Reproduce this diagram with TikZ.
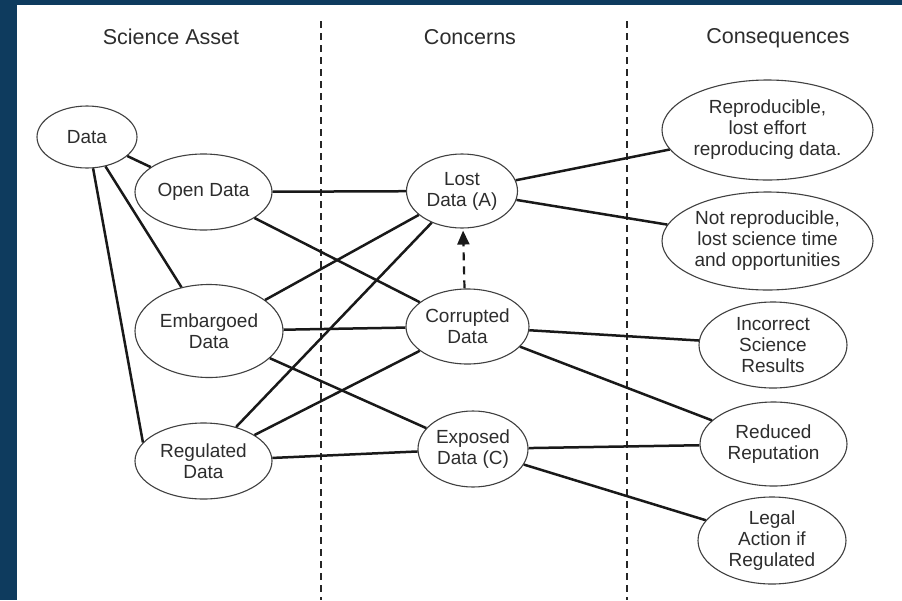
\documentclass[tikz,border=0pt]{standalone}
\usepackage{fontspec}
\setmainfont{Liberation Sans}
\usetikzlibrary{shapes.geometric,arrows.meta}
\definecolor{bgblue}{RGB}{14,59,94}
\definecolor{txt}{RGB}{45,45,45}
\begin{document}
\begin{tikzpicture}[x=1pt,y=-1pt,
  oval/.style={ellipse, draw=black!75, line width=1.1pt, inner sep=0pt, align=center, text=txt, font=\fontsize{19}{21}\selectfont},
  link/.style={line width=2.5pt, draw=black!90},
  divider/.style={line width=1.4pt, draw=black!85, dash pattern=on 7pt off 5pt},
  header/.style={anchor=base, text=txt, font=\fontsize{21.5}{24}\selectfont}]
\fill[bgblue] (0,0) rectangle (902,600);
\fill[white] (17,5) rectangle (902,600);
\useasboundingbox (0,0) rectangle (902,600);

% headers
\node[header] (h1) at (171,44) {Science Asset};
\node[header] (h2) at (470,44) {Concerns};
\node[header] (h3) at (778,43) {Consequences};

% dividers
\coordinate (d1t) at (321,21);
\coordinate (d1b) at (321,600);
\coordinate (d2t) at (627,21);
\coordinate (d2b) at (627,600);
\draw[divider] (d1t) -- (d1b);
\draw[divider] (d2t) -- (d2b);

% science assets
\node[oval, minimum width=100pt, minimum height=62pt] (data) at (87,137) {Data};
\node[oval, minimum width=137pt, minimum height=76pt] (open) at (203.5,192) {Open Data};
\node[oval, minimum width=148pt, minimum height=93pt] (emb) at (209,331) {Embargoed\\Data};
\node[oval, minimum width=137pt, minimum height=76pt] (reg) at (203.5,461) {Regulated\\Data};

% concerns
\node[oval, minimum width=111pt, minimum height=74pt] (lost) at (462,191) {Lost\\Data (A)};
\node[oval, minimum width=123pt, minimum height=75pt] (corr) at (467.5,326.5) {Corrupted\\Data};
\node[oval, minimum width=110pt, minimum height=76pt] (expo) at (473,449) {Exposed\\Data (C)};

% consequences
\node[oval, minimum width=211pt, minimum height=100pt] (repro) at (767.5,130) {Reproducible,\\lost effort\\reproducing data.};
\node[oval, minimum width=211pt, minimum height=98pt] (notrepro) at (767.5,241) {Not reproducible,\\lost science time\\and opportunities};
\node[oval, minimum width=148pt, minimum height=86pt] (incorrect) at (773,345) {Incorrect\\Science\\Results};
\node[oval, minimum width=147pt, minimum height=84pt] (reduced) at (773.5,444) {Reduced\\Reputation};
\node[oval, minimum width=148pt, minimum height=87pt] (legal) at (772,540.5) {Legal\\Action if\\Regulated};

% connectors
\draw[link] (data) -- (open);
\draw[link] (data) -- (emb);
\draw[link] (data.281) -- (reg.163);
\draw[link] (open) -- (lost);
\draw[link] (open) -- (corr);
\draw[link] (emb) -- (lost);
\draw[link] (emb) -- (corr);
\draw[link] (emb) -- (expo);
\draw[link] (reg) -- (lost);
\draw[link] (reg) -- (corr);
\draw[link] (reg) -- (expo);
\draw[link] (lost) -- (repro);
\draw[link] (lost) -- (notrepro);
\draw[link] (corr) -- (incorrect);
\draw[link] (corr) -- (reduced);
\draw[link] (expo) -- (reduced);
\draw[link] (expo) -- (legal);
\draw[line width=2.2pt, draw=black!90, dash pattern=on 8pt off 6pt, -{Triangle[length=14pt,width=12pt]}, shorten >=2pt]
  ([xshift=-3pt]corr.north) -- ([xshift=1pt]lost.south);
\end{tikzpicture}
\end{document}
